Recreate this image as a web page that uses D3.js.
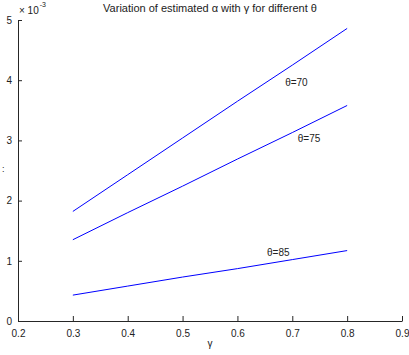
<!DOCTYPE html>
<html>
<head>
<meta charset="utf-8">
<script src="https://cdn.jsdelivr.net/npm/d3@7"></script>
<style>
  body { margin: 0; background: #fff; }
  svg { display: block; font-family: "Liberation Sans", Arial, sans-serif; }
</style>
</head>
<body>
<div id="chart"></div>
<script>
// gamma values along x
const gamma = [0.3, 0.4, 0.5, 0.6, 0.7, 0.8];
// estimated alpha (x 1e-3) for each theta
const alpha70 = [1.82, 2.43, 3.04, 3.65, 4.25, 4.86];
const alpha75 = [1.35, 1.80, 2.24, 2.69, 3.13, 3.58];
const alpha85 = [0.43, 0.58, 0.73, 0.87, 1.02, 1.17];
const seriesNames = ['θ=70', 'θ=75', 'θ=85'];
// where the text labels sit, in data units
const labelGamma = [0.687, 0.710, 0.654];
const labelAlpha = [3.90, 2.97, 1.08];
const xTicks = [0.2, 0.3, 0.4, 0.5, 0.6, 0.7, 0.8, 0.9];
const yTicks = [0, 1, 2, 3, 4, 5];

const width = 409, height = 355;
const margin = {top: 20, right: 7, bottom: 34, left: 18};

const svg = d3.select('#chart').append('svg')
    .attr('width', width).attr('height', height);

const x = d3.scaleLinear().domain([0.2, 0.9]).range([margin.left, width - margin.right]);
const y = d3.scaleLinear().domain([0, 5]).range([height - margin.bottom, margin.top]);

const axisColor = '#262626';

// x axis, ticks pointing inward
const gx = svg.append('g')
    .attr('transform', 'translate(0,' + (height - margin.bottom) + ')')
    .call(d3.axisBottom(x).tickValues(xTicks).tickFormat(d3.format('.1f'))
        .tickSizeInner(-5).tickSizeOuter(0).tickPadding(9));
gx.select('.domain').attr('stroke', axisColor);
gx.selectAll('.tick line').attr('stroke', axisColor);
gx.selectAll('.tick text').attr('fill', '#222').style('font-size', '10px');

// y axis
const gy = svg.append('g')
    .attr('transform', 'translate(' + margin.left + ',0)')
    .call(d3.axisLeft(y).tickValues(yTicks).tickFormat(d3.format('d'))
        .tickSizeInner(-4).tickSizeOuter(0).tickPadding(6));
gy.select('.domain').attr('stroke', axisColor);
gy.selectAll('.tick line').attr('stroke', axisColor);
gy.selectAll('.tick text').attr('fill', '#222').style('font-size', '10px');

// exponent
const expo = svg.append('text').attr('x', margin.left + 1).attr('y', margin.top - 6)
    .attr('fill', '#222').style('font-size', '10px');
expo.append('tspan').text('× 10');
expo.append('tspan').attr('dy', -7).attr('dx', 1).style('font-size', '7px').text('-3');

// lines
const line = d3.line().x((d, i) => x(gamma[i])).y(d => y(d));
[alpha70, alpha75, alpha85].forEach(s => {
    svg.append('path')
        .datum(s)
        .attr('fill', 'none')
        .attr('stroke', '#0000ff')
        .attr('stroke-width', 1)
        .attr('d', line);
});

// series labels
svg.append('g').selectAll('text')
    .data(seriesNames)
    .enter().append('text')
        .attr('x', (d, i) => x(labelGamma[i]))
        .attr('y', (d, i) => y(labelAlpha[i]))
        .attr('fill', '#222')
        .style('font-size', '10px')
        .text(d => d);

// title and axis labels
svg.append('text')
    .attr('x', (margin.left + width - margin.right) / 2).attr('y', 12)
    .attr('text-anchor', 'middle').attr('fill', '#222').style('font-size', '11px')
    .text('Variation of estimated α with γ for different θ');

svg.append('text')
    .attr('x', x(0.55)).attr('y', 347)
    .attr('text-anchor', 'middle').attr('fill', '#222').style('font-size', '10px')
    .text('γ');

svg.append('text')
    .attr('x', 2).attr('y', 172)
    .attr('fill', '#222').style('font-size', '9px')
    .text(':');
</script>
</body>
</html>
